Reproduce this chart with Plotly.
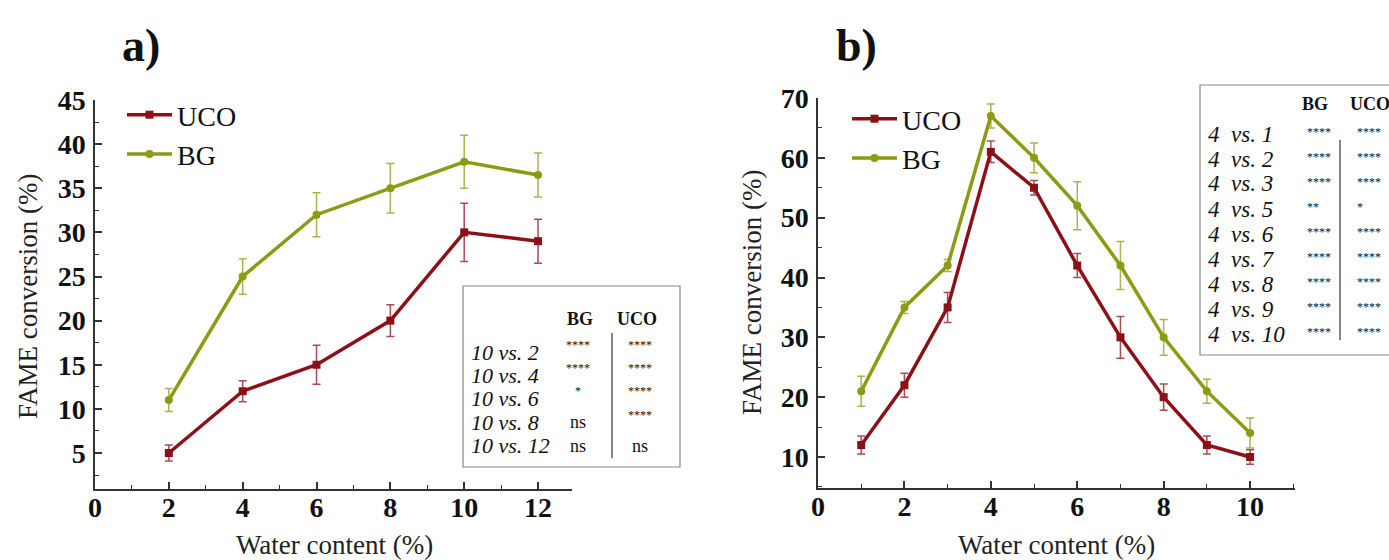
import plotly.graph_objects as go

W, H = 1389, 560

# ---------------- data ----------------
water_a = [2, 4, 6, 8, 10, 12]
uco_a = [5, 12, 15, 20, 30, 29]
uco_a_err = [0.9, 1.2, 2.2, 1.8, 3.3, 2.5]
bg_a = [11, 25, 32, 35, 38, 36.5]
bg_a_err = [1.3, 2.0, 2.5, 2.8, 3.0, 2.5]

water_b = [1, 2, 3, 4, 5, 6, 7, 8, 9, 10]
uco_b = [12, 22, 35, 61, 55, 42, 30, 20, 12, 10]
uco_b_err = [1.5, 2.0, 2.5, 1.8, 1.2, 2.0, 3.5, 2.2, 1.5, 1.2]
bg_b = [21, 35, 42, 67, 60, 52, 42, 30, 21, 14]
bg_b_err = [2.5, 1.0, 1.0, 2.0, 2.5, 4.0, 4.0, 3.0, 2.0, 2.5]

table_a_rows = ["10 vs. 2", "10 vs. 4", "10 vs. 6", "10 vs. 8", "10 vs. 12"]
table_a_bg = ["****", "****", "*", "ns", "ns"]
table_a_uco = ["****", "****", "****", "****", "ns"]

table_b_rows = ["4  vs. 1", "4  vs. 2", "4  vs. 3", "4  vs. 5", "4  vs. 6",
                "4  vs. 7", "4  vs. 8", "4  vs. 9", "4  vs. 10"]
table_b_bg = ["****", "****", "****", "**", "****", "****", "****", "****", "****"]
table_b_uco = ["****", "****", "****", "*", "****", "****", "****", "****", "****"]

UCO_C = "#8c1018"
BG_C = "#8c9a14"
UCO_E = "rgba(140,16,24,0.75)"
BG_E = "rgba(140,154,20,0.75)"
SERIF = "Liberation Serif"
TXT = "#111111"


def px(x):
    return x / W


def py(y):
    return 1 - y / H


fig = go.Figure()


def add_series(x, y, err, name, color, ecolor, symbol, xa, ya, legend):
    fig.add_trace(go.Scatter(
        x=x, y=y, name=name, mode="lines+markers",
        line=dict(color=color, width=3.5),
        marker=dict(symbol=symbol, size=8, color=color),
        error_y=dict(type="data", array=err, visible=True, color=ecolor,
                     thickness=1.5, width=4),
        xaxis=xa, yaxis=ya, legend=legend,
    ))


add_series(water_a, uco_a, uco_a_err, "UCO", UCO_C, UCO_E, "square", "x", "y", "legend")
add_series(water_a, bg_a, bg_a_err, "BG", BG_C, BG_E, "circle", "x", "y", "legend")
add_series(water_b, uco_b, uco_b_err, "UCO", UCO_C, UCO_E, "square", "x2", "y2", "legend2")
add_series(water_b, bg_b, bg_b_err, "BG", BG_C, BG_E, "circle", "x2", "y2", "legend2")

tickfont = dict(family=SERIF, size=28, color=TXT, weight="bold")
common_axis = dict(showline=True, linecolor="#333333", linewidth=1.5,
                   ticks="inside", ticklen=7, tickwidth=1.5, tickcolor="#333333",
                   showgrid=False, zeroline=False, tickfont=tickfont,
                   automargin=False)
xstyle = dict(common_axis, ticklabelstandoff=-7)
ystyle = dict(common_axis, ticklabelstandoff=2)


def minor(dt):
    return dict(dtick=dt, tick0=0, ticks="inside", ticklen=4,
                tickcolor="#333333", tickwidth=1.2)


legend_font = dict(family=SERIF, size=28, color=TXT)

fig.update_layout(
    width=W, height=H,
    margin=dict(l=0, r=0, t=0, b=0, pad=0),
    paper_bgcolor="white", plot_bgcolor="white",
    xaxis=dict(domain=[px(95), px(572)], range=[0, 12.92], anchor="y",
               tickvals=[0, 2, 4, 6, 8, 10, 12], minor=minor(1), **xstyle),
    yaxis=dict(domain=[py(489), py(100)], range=[0.92, 45], anchor="x",
               tickvals=[5, 10, 15, 20, 25, 30, 35, 40, 45], minor=minor(2.5),
               **ystyle),
    xaxis2=dict(domain=[px(818), px(1295)], range=[0, 11.04], anchor="y2",
                tickvals=[0, 2, 4, 6, 8, 10], minor=minor(1), **xstyle),
    yaxis2=dict(domain=[py(488), py(98)], range=[4.82, 70], anchor="x2",
                tickvals=[10, 20, 30, 40, 50, 60, 70], minor=minor(5),
                **ystyle),
    legend=dict(x=px(122), y=py(90), xanchor="left", yanchor="top",
                itemwidth=45,
                bgcolor="rgba(0,0,0,0)", tracegroupgap=0, font=legend_font),
    legend2=dict(x=px(847), y=py(94), xanchor="left", yanchor="top",
                 itemwidth=45,
                 bgcolor="rgba(0,0,0,0)", tracegroupgap=0, font=legend_font),
    showlegend=True,
)

ann = []
shapes = []


def text(t, x, y, size, xanchor="center", yanchor="middle", angle=0, color=TXT, weight=None):
    f = dict(family=SERIF, size=size, color=color)
    if weight:
        f["weight"] = weight
    ann.append(dict(text=t, x=px(x), y=py(y), xref="paper", yref="paper",
                    xanchor=xanchor, yanchor=yanchor, textangle=angle,
                    showarrow=False, font=f))


# panel titles
text("a)", 141, 45, 46, weight="bold")
text("b)", 856, 45, 46, weight="bold")

# axis titles
text("Water content (%)", 334, 545, 27, color="#222222")
text("Water content (%)", 1056, 545, 27, color="#222222")
text("FAME conversion (%)", 28, 297, 27, angle=-90, color="#222222")
text("FAME conversion (%)", 752, 293, 27, angle=-90, color="#222222")

# ---- table a ----
shapes.append(dict(type="rect", xref="paper", yref="paper",
                   x0=px(463), x1=px(680), y0=py(467), y1=py(286),
                   line=dict(color="#888888", width=1.2), fillcolor="white"))
shapes.append(dict(type="line", xref="paper", yref="paper",
                   x0=px(612), x1=px(612), y0=py(333), y1=py(458),
                   line=dict(color="#333333", width=1.2)))
text("BG", 580, 319, 18, weight="bold")
text("UCO", 637, 319, 18, weight="bold")
row_y_a = [352, 375, 398, 422, 446]
for i, lbl in enumerate(table_a_rows):
    yy = row_y_a[i]
    text("<i>" + lbl + "</i>", 469, yy, 22, xanchor="left")
    for val, cx in ((table_a_bg[i], 578), (table_a_uco[i], 640)):
        if val == "ns":
            text(val, cx, yy, 18)
        else:
            text(val, cx, yy - 7, 12)

# ---- table b ----
shapes.append(dict(type="rect", xref="paper", yref="paper",
                   x0=px(1200), x1=px(1400), y0=py(355), y1=py(85),
                   line=dict(color="#888888", width=1.2), fillcolor="white"))
shapes.append(dict(type="line", xref="paper", yref="paper",
                   x0=px(1340), x1=px(1340), y0=py(140), y1=py(340),
                   line=dict(color="#333333", width=1.2)))
text("BG", 1315, 104, 18, weight="bold")
text("UCO", 1370, 104, 18, weight="bold")
for i, lbl in enumerate(table_b_rows):
    yy = 134 + i * 25
    text("<i>" + lbl + "</i>", 1206, yy, 23, xanchor="left")
    text(table_b_bg[i], 1305, yy - 2, 12, xanchor="left")
    text(table_b_uco[i], 1355, yy - 2, 12, xanchor="left")

fig.update_layout(annotations=ann, shapes=shapes)
fig.write_html("out.html")
